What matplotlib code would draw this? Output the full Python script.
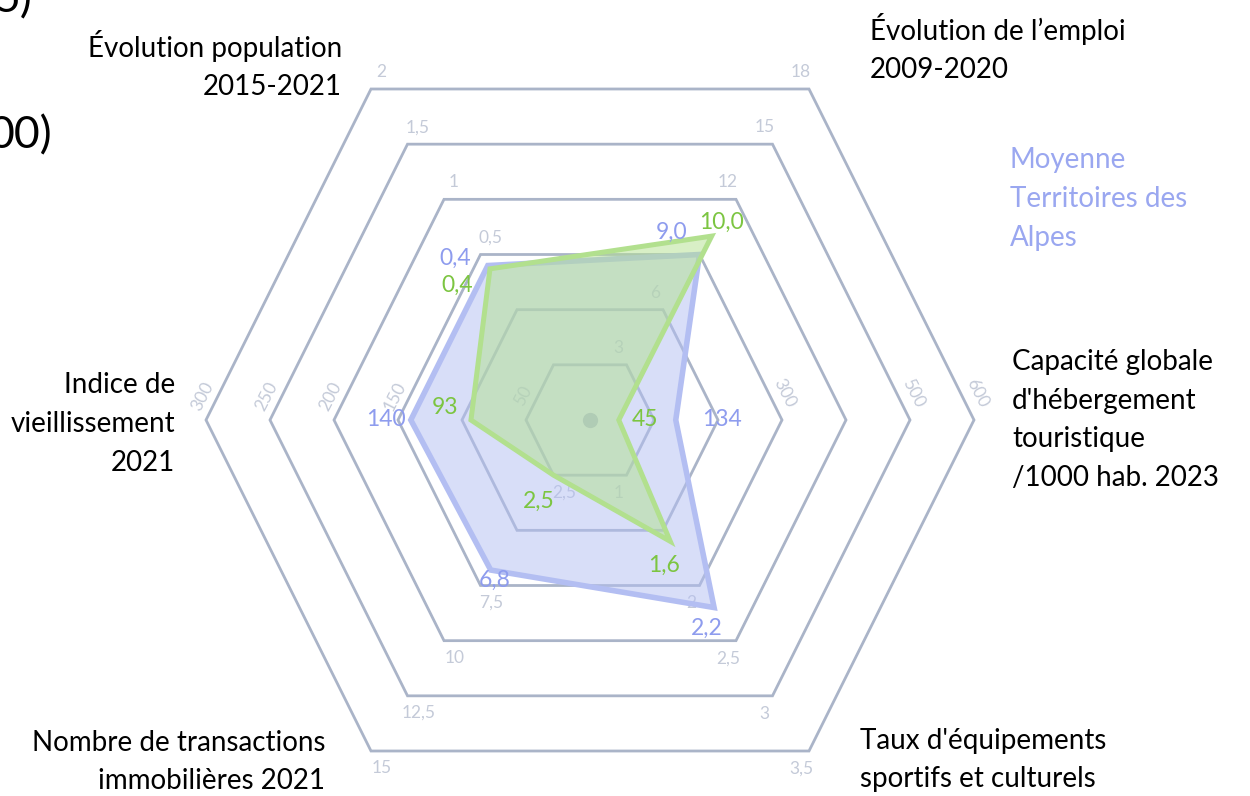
import numpy as np
import matplotlib.pyplot as plt
from matplotlib.patches import Polygon

plt.rcParams['font.family'] = ['Lato', 'DejaVu Sans']

# axes du radar (dans l'ordre, en partant du haut à gauche)
axes_noms = ["Évolution population\n2015-2021",
             "Évolution de l’emploi\n2009-2020",
             "Capacité globale\nd'hébergement\ntouristique\n/1000 hab. 2023",
             "Taux d'équipements\nsportifs et culturels",
             "Nombre de transactions\nimmobilières 2021",
             "Indice de\nvieillissement\n2021"]

# valeur au centre et pas entre deux anneaux, pour chaque axe
centre_val = [-1, 0, 0, 0.5, 0, 0]
pas = [0.5, 3, 100, 0.5, 2.5, 50]

# graduations affichées sur chaque anneau (1 -> 6)
graduations = [["", "", "0,5", "1", "1,5", "2"],
               ["3", "6", "", "12", "15", "18"],
               ["", "", "300", "", "500", "600"],
               ["1", "", "2", "2,5", "3", "3,5"],
               ["2,5", "", "7,5", "10", "12,5", "15"],
               ["50", "", "150", "200", "250", "300"]]

moyenne_alpes = [0.40, 9.0, 134, 2.2, 6.8, 140]
territoire = [0.37, 10.0, 45, 1.6, 2.5, 93]
etiq_moyenne = ["0,4", "9,0", "134", "2,2", "6,8", "140"]
etiq_territoire = ["0,4", "10,0", "45", "1,6", "2,5", "93"]

# geometrie (pixels)
cx, cy = 590, 420
dirs = np.array([(-219, -331), (219, -331), (384, 0),
                 (219, 331), (-219, 331), (-384, 0)], dtype=float)
n_anneaux = 6

c_grille = '#aab4c8'
c_grad = '#c4cad8'
c_bleu = '#b3bef2'
c_bleu_txt = '#8e9cee'
c_vert = '#b2e08e'
c_vert_txt = '#7cc541'


def points(valeurs):
    f = (np.array(valeurs) - np.array(centre_val)) / (np.array(pas) * n_anneaux)
    return np.column_stack([cx + f * dirs[:, 0], cy + f * dirs[:, 1]])


fig = plt.figure(figsize=(12.5, 7.96), dpi=100)
ax = fig.add_axes([0, 0, 1, 1])
ax.set_xlim(0, 1250)
ax.set_ylim(796, 0)
ax.axis('off')

# anneaux
for k in range(1, n_anneaux + 1):
    pts = np.array([cx, cy]) + dirs * k / n_anneaux
    ax.add_patch(Polygon(pts, closed=True, fill=False, ec=c_grille, lw=2,
                         joinstyle='miter', zorder=1))
ax.plot([cx], [cy], 'o', ms=11, color=c_grille, mec='none', zorder=1)

# graduations
grad_offset = [(10, -17, 0), (-8, -17, 0), (3, -27, -63),
               (-8, 18, 0), (11, 17, 0), (-3, -24, 63)]
for i in range(6):
    dx, dy, rot = grad_offset[i]
    for k in range(1, n_anneaux + 1):
        lab = graduations[i][k - 1]
        if not lab:
            continue
        x = cx + dirs[i, 0] * k / n_anneaux + dx
        y = cy + dirs[i, 1] * k / n_anneaux + dy
        ax.text(x, y, lab, ha='center', va='center', fontsize=12.5,
                color=c_grad, rotation=rot, zorder=1.5)

# polygones
pb = points(moyenne_alpes)
pv = points(territoire)
ax.add_patch(Polygon(pb, closed=True, fc=c_bleu, alpha=0.5, ec='none', zorder=2))
ax.add_patch(Polygon(pb, closed=True, fill=False, ec=c_bleu, lw=4,
                     joinstyle='miter', zorder=3))
ax.add_patch(Polygon(pv, closed=True, fc=c_vert, alpha=0.5, ec='none', zorder=4))
ax.add_patch(Polygon(pv, closed=True, fill=False, ec=c_vert, lw=3.6,
                     joinstyle='miter', zorder=5))

# etiquettes de valeurs
off_bleu = [(-33, -7), (-28, -22), (46, 0), (-7, 21), (4, 10), (-25, 0)]
off_vert = [(-33, 17), (10, -14), (26, 0), (-6, 24), (-15, 26), (-26, -12)]
for i in range(6):
    ax.text(pb[i, 0] + off_bleu[i][0], pb[i, 1] + off_bleu[i][1], etiq_moyenne[i],
            ha='center', va='center', fontsize=16.5, color=c_bleu_txt, zorder=6)
    ax.text(pv[i, 0] + off_vert[i][0], pv[i, 1] + off_vert[i][1], etiq_territoire[i],
            ha='center', va='center', fontsize=16.5, color=c_vert_txt, zorder=6)

# titres des axes
titre_pos = [(342, 65, 'right'), (870, 48, 'left'), (1012, 420, 'left'),
             (860, 760, 'left'), (325, 762, 'right'), (175, 424, 'right')]
for i in range(6):
    x, y, ha = titre_pos[i]
    ax.text(x, y, axes_noms[i], ha=ha, va='center', multialignment=ha,
            fontsize=20, color='black', linespacing=1.6)

ax.text(1010, 199, "Moyenne\nTerritoires des\nAlpes", ha='left', va='center',
        fontsize=20, color='#9aa7f0', linespacing=1.6)

# restes du titre coupé
ax.text(32, 12, "5)", ha='right', va='baseline', fontsize=32, color='black')
ax.text(52, 148, "00)", ha='right', va='baseline', fontsize=32, color='black')

fig.savefig('out.png', dpi=100)
